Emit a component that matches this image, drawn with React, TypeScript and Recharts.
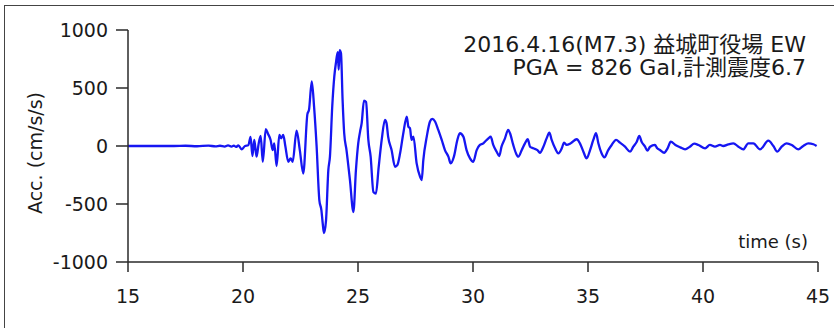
import React from 'react';
import { LineChart, Line, XAxis, YAxis } from 'recharts';

const times: number[] = [
  15.0, 16.0, 17.0, 17.5, 18.0, 18.5, 18.8, 19.0, 19.2, 19.35, 19.5, 19.6, 19.7, 19.8, 19.94,
  20.09, 20.23, 20.33, 20.41, 20.49, 20.59, 20.68, 20.77, 20.86, 20.99, 21.09, 21.2, 21.29, 21.36,
  21.46, 21.58, 21.66, 21.75, 21.84, 21.97, 22.07, 22.16, 22.33, 22.47, 22.62, 22.8, 22.87, 22.99,
  23.09, 23.2, 23.32, 23.41, 23.46, 23.52, 23.61, 23.71, 23.78, 23.88, 23.97, 24.04, 24.12, 24.16,
  24.2, 24.26, 24.33, 24.4, 24.5, 24.65, 24.8, 24.91, 25.01, 25.09, 25.16, 25.26, 25.35, 25.45,
  25.55, 25.67, 25.78, 25.9, 26.03, 26.17, 26.24, 26.31, 26.46, 26.61, 26.71, 26.83, 26.97, 27.12,
  27.19, 27.26, 27.33, 27.41, 27.55, 27.7, 27.77, 27.84, 27.99, 28.13, 28.23, 28.35, 28.49, 28.64,
  28.78, 28.93, 29.03, 29.17, 29.32, 29.43, 29.58, 29.72, 29.87, 30.01, 30.16, 30.3, 30.45, 30.52,
  30.67, 30.77, 30.88, 31.03, 31.14, 31.24, 31.39, 31.53, 31.61, 31.75, 31.87, 31.97, 32.12, 32.26,
  32.38, 32.48, 32.62, 32.8, 32.91, 33.06, 33.2, 33.32, 33.42, 33.57, 33.71, 33.86, 33.96, 34.07,
  34.25, 34.51, 34.65, 34.8, 34.94, 35.09, 35.23, 35.35, 35.45, 35.59, 35.71, 35.88, 36.03, 36.22,
  36.39, 36.61, 36.83, 36.97, 37.12, 37.23, 37.33, 37.48, 37.58, 37.7, 37.91, 38.01, 38.13, 38.31,
  38.46, 38.6, 38.8, 39.01, 39.22, 39.43, 39.62, 39.8, 40.09, 40.3, 40.52, 40.74, 40.88, 41.1,
  41.32, 41.54, 41.75, 41.97, 42.19, 42.48, 42.84, 43.06, 43.23, 43.42, 43.64, 43.86, 44.14, 44.36,
  44.58, 44.8, 44.94,
];

const accel: number[] = [
  0, 0, 0, 2, -2, 3, -3, 2, -5, 5, -6, 4, -8, 6, -29,
  0, 6, 78, -87, 52, -92, 20, 87, -136, 145, 104, 52, -35, 23,
  -173, 95, 66, 95, 0, -136, -107, -136, 133, -35, -237, 275, 312, 557,
  340, 0, -468, -554, -656, -751, -641, -208, -92, 340, 600, 716, 808, 658,
  826, 800, 398, 110, -35, -294, -569, -208, 23, 124, 197, 392, 380, 52,
  -92, -396, -410, -179, 52, 225, 197, 81, -35, -179, -165, -63, 110, 254,
  167, 153, 52, 81, -150, -266, -294, -121, 81, 211, 234, 211, 139, 52,
  -35, -92, -150, -92, 52, 110, 81, -35, -107, -136, -35, 9, 23, 37,
  66, 81, 9, -49, -87, -6, 66, 139, 110, 9, -63, -92, -35, 23,
  58, -6, -20, -35, -58, -6, 66, 115, 52, -20, -63, -20, 29, 9,
  23, 58, 23, -49, -107, -35, 52, 110, 23, -63, -98, -35, 9, 52,
  29, -6, -49, -6, 37, 87, 37, -6, -40, -6, 9, -20, -35, -58,
  -20, 37, 9, -12, -29, -6, 20, 9, -20, 9, -6, 9, 0, 14,
  23, -6, -29, 23, 23, -29, 46, 0, -49, -6, 23, 9, -29, 0,
  23, 15, 0,
];

const xTicks: number[] = [15, 20, 25, 30, 35, 40, 45];
const yTicks: number[] = [-1000, -500, 0, 500, 1000];

const titleLine1 = '2016.4.16(M7.3) 益城町役場 EW';
const titleLine2 = 'PGA = 826 Gal,計測震度6.7';
const xLabel = 'time (s)';
const yLabel = 'Acc. (cm/s/s)';

const data = times.map((t, i) => ({ t, a: accel[i] }));

const FONT = '"DejaVu Sans", "Noto Sans CJK JP", sans-serif';
const AX = '#2a2a2a';

export default function App() {
  return (
    <div style={{ position: 'absolute', left: 0, top: 0, width: 834, height: 328, background: '#fff', fontFamily: FONT }}>
      <div style={{ position: 'absolute', left: 4, top: 5, width: 830, height: 323, borderTop: '1.5px solid #444', borderLeft: '1.5px solid #444', boxSizing: 'border-box' }} />
      <LineChart width={834} height={328} data={data} margin={{ top: 30, right: 16, bottom: 0, left: 0 }}>
        <XAxis
          type="number"
          dataKey="t"
          domain={[15, 45]}
          ticks={xTicks}
          allowDataOverflow
          height={66}
          tickSize={10}
          tickMargin={18}
          axisLine={{ stroke: AX, strokeWidth: 1.5 }}
          tickLine={{ stroke: AX, strokeWidth: 1.5 }}
          tick={{ fill: '#1a1a1a', fontSize: 19, fontFamily: FONT }}
        />
        <YAxis
          type="number"
          domain={[-1000, 1000]}
          ticks={yTicks}
          width={128}
          tickSize={12}
          tickMargin={8}
          axisLine={{ stroke: AX, strokeWidth: 1.5 }}
          tickLine={{ stroke: AX, strokeWidth: 1.5 }}
          tick={{ fill: '#1a1a1a', fontSize: 19, fontFamily: FONT }}
        />
        <Line
          type="monotone"
          dataKey="a"
          stroke="#1616f2"
          strokeWidth={2.3}
          dot={false}
          isAnimationActive={false}
        />
      </LineChart>
      <div style={{ position: 'absolute', right: 28, top: 33, textAlign: 'right', fontSize: 22, lineHeight: '23px', color: '#1a1a1a', whiteSpace: 'nowrap' }}>
        <div>{titleLine1}</div>
        <div>{titleLine2}</div>
      </div>
      <div style={{ position: 'absolute', right: 26, top: 231, fontSize: 18, color: '#1a1a1a', whiteSpace: 'nowrap' }}>{xLabel}</div>
      <div style={{ position: 'absolute', left: 35, top: 153, transform: 'translate(-50%, -50%) rotate(-90deg)', fontSize: 19, color: '#1a1a1a', whiteSpace: 'nowrap' }}>{yLabel}</div>
    </div>
  );
}
